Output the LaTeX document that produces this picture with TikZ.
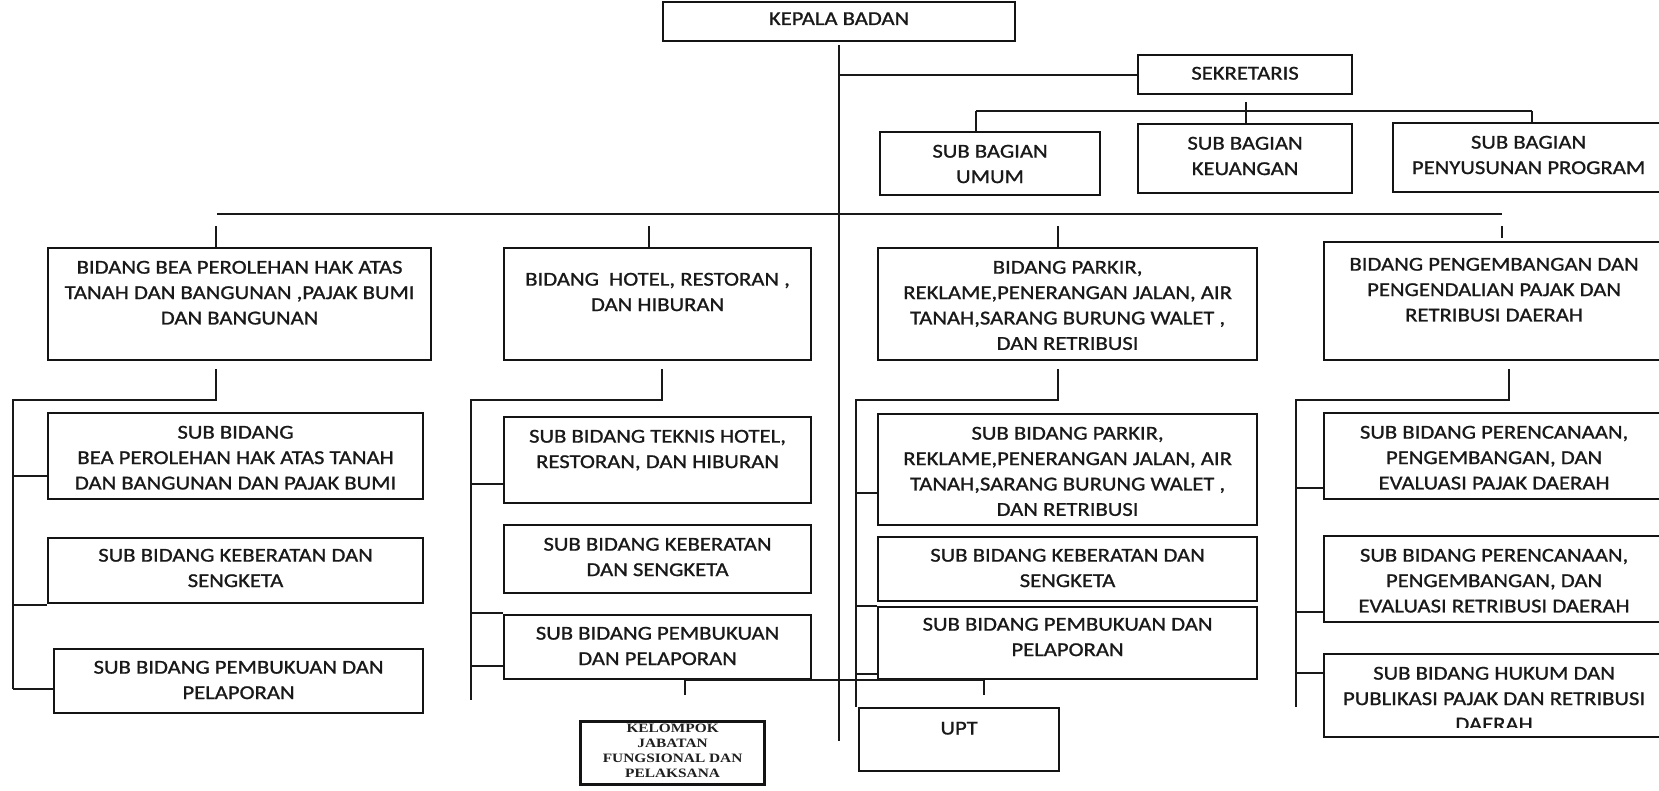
\documentclass[tikz,border=0pt]{standalone}
\usepackage{fontspec}
\setmainfont{Carlito}[FakeStretch=1.15,FakeBold=1.0]
\newfontfamily\kfont{Liberation Serif}[FakeStretch=1.2]
\begin{document}
\begin{tikzpicture}[x=1pt,y=-1pt,
  box/.style={draw=black!92, line width=2.1pt, inner sep=0pt, anchor=north west},
  thickbox/.style={box, line width=3.2pt},
  tx/.style={align=center, inner sep=0pt, anchor=north, text=black!90,
    font=\fontsize{19.7}{25.4}\selectfont},
  ktx/.style={align=center, inner sep=0pt, anchor=north, text=black!88,
    font=\kfont\bfseries\fontsize{12.8}{15}\selectfont},
  conn/.style={draw=black!90, line width=2.1pt}]
\useasboundingbox (0,0) rectangle (1659,790);
\clip (0,0) rectangle (1659,790);
\fill[white] (0,0) rectangle (1659,790);

% ---------- boxes ----------
\node[box, minimum width=352pt, minimum height=39pt] (kepala) at (662,1) {};
\node[box, minimum width=214pt, minimum height=39pt] (sekr) at (1137,54) {};
\node[box, minimum width=220pt, minimum height=63pt] (umum) at (879,131) {};
\node[box, minimum width=214pt, minimum height=69pt] (keu) at (1137,123) {};
\node[box, minimum width=271pt, minimum height=69pt] (peny) at (1392,122) {};

\node[box, minimum width=383pt, minimum height=112pt] (bid1) at (47,247) {};
\node[box, minimum width=307pt, minimum height=112pt] (bid2) at (503,247) {};
\node[box, minimum width=379pt, minimum height=112pt] (bid3) at (877,247) {};
\node[box, minimum width=340pt, minimum height=118pt] (bid4) at (1323,241) {};

\node[box, minimum width=375pt, minimum height=86pt] (s11) at (47,412) {};
\node[box, minimum width=375pt, minimum height=65pt] (s12) at (47,537) {};
\node[box, minimum width=369pt, minimum height=64pt] (s13) at (53,648) {};

\node[box, minimum width=307pt, minimum height=86pt] (s21) at (503,416) {};
\node[box, minimum width=307pt, minimum height=68pt] (s22) at (503,524) {};
\node[box, minimum width=307pt, minimum height=64pt] (s23) at (503,614) {};

\node[box, minimum width=379pt, minimum height=111pt] (s31) at (877,413) {};
\node[box, minimum width=379pt, minimum height=64pt] (s32) at (877,536) {};
\node[box, minimum width=379pt, minimum height=72pt] (s33) at (877,606) {};

\node[box, minimum width=340pt, minimum height=86pt] (s41) at (1323,412) {};
\node[box, minimum width=340pt, minimum height=86pt] (s42) at (1323,535) {};
\node[box, minimum width=340pt, minimum height=83pt] (s43) at (1323,653) {};

\node[box, minimum width=200pt, minimum height=63pt] (upt) at (858,707) {};
\node[thickbox, minimum width=184pt, minimum height=63pt] (kel) at (579,720) {};

% ---------- texts ----------
\node[tx] (kepalat) at ([yshift=-11.15pt]kepala.north) {KEPALA BADAN};
\node[tx] (sekrt) at ([yshift=-12.65pt]sekr.north) {SEKRETARIS};
\node[tx] (umumt) at ([yshift=-13.65pt]umum.north) {SUB BAGIAN\\UMUM};
\node[tx] (keut) at ([yshift=-13.65pt]keu.north) {SUB BAGIAN\\KEUANGAN};
\node[tx] (penyt) at ([yshift=-13.65pt]peny.north) {SUB BAGIAN\\PENYUSUNAN PROGRAM};

\node[tx] (bid1t) at ([yshift=-13.65pt]bid1.north) {BIDANG BEA PEROLEHAN HAK ATAS\\TANAH DAN BANGUNAN ,PAJAK BUMI\\DAN BANGUNAN};
\node[tx] (bid2t) at ([yshift=-25.65pt]bid2.north) {BIDANG\ \ HOTEL, RESTORAN ,\\DAN HIBURAN};
\node[tx] (bid3t) at ([yshift=-13.65pt]bid3.north) {BIDANG PARKIR,\\REKLAME,PENERANGAN JALAN, AIR\\TANAH,SARANG BURUNG WALET ,\\DAN RETRIBUSI};
\node[tx] (bid4t) at ([yshift=-16.65pt]bid4.north) {BIDANG PENGEMBANGAN DAN\\PENGENDALIAN PAJAK DAN\\RETRIBUSI DAERAH};

\node[tx] (s11t) at ([yshift=-13.65pt]s11.north) {SUB BIDANG\\BEA PEROLEHAN HAK ATAS TANAH\\DAN BANGUNAN DAN PAJAK BUMI};
\node[tx] (s12t) at ([yshift=-11.65pt]s12.north) {SUB BIDANG KEBERATAN DAN\\SENGKETA};
\node[tx] (s13t) at ([yshift=-12.65pt]s13.north) {SUB BIDANG PEMBUKUAN DAN\\PELAPORAN};

\node[tx] (s21t) at ([yshift=-13.65pt]s21.north) {SUB BIDANG TEKNIS HOTEL,\\RESTORAN, DAN HIBURAN};
\node[tx] (s22t) at ([yshift=-13.65pt]s22.north) {SUB BIDANG KEBERATAN\\DAN SENGKETA};
\node[tx] (s23t) at ([yshift=-12.65pt]s23.north) {SUB BIDANG PEMBUKUAN\\DAN PELAPORAN};

\node[tx] (s31t) at ([yshift=-13.65pt]s31.north) {SUB BIDANG PARKIR,\\REKLAME,PENERANGAN JALAN, AIR\\TANAH,SARANG BURUNG WALET ,\\DAN RETRIBUSI};
\node[tx] (s32t) at ([yshift=-12.65pt]s32.north) {SUB BIDANG KEBERATAN DAN\\SENGKETA};
\node[tx] (s33t) at ([yshift=-11.65pt]s33.north) {SUB BIDANG PEMBUKUAN DAN\\PELAPORAN};

\node[tx] (s41t) at ([yshift=-13.65pt]s41.north) {SUB BIDANG PERENCANAAN,\\PENGEMBANGAN, DAN\\EVALUASI PAJAK DAERAH};
\node[tx] (s42t) at ([yshift=-13.65pt]s42.north) {SUB BIDANG PERENCANAAN,\\PENGEMBANGAN, DAN\\EVALUASI RETRIBUSI DAERAH};
\begin{scope}
\clip (1323,653) rectangle (1663,727.5);
\node[tx] (s43t) at ([yshift=-13.65pt]s43.north) {SUB BIDANG HUKUM DAN\\PUBLIKASI PAJAK DAN RETRIBUSI\\DAERAH};
\end{scope}

\node[tx] (uptt) at ([yshift=-14.65pt]upt.north) {UPT};
\node[ktx] (kelt) at ([yshift=-3.5pt]kel.north) {KELOMPOK\\JABATAN\\FUNGSIONAL DAN\\PELAKSANA};

% ---------- connectors ----------
\coordinate (mtop) at (839,45);
\coordinate (mend) at (839,741);
\draw[conn] (mtop) -- (mend);
\draw[conn] (sekr.west -| mtop) -- (sekr.west);

% secretary branch
\coordinate (sk) at (1246,102);
\coordinate (h1) at (976,111);
\coordinate (h2) at (1532,111);
\draw[conn] (sk) -- (sk |- keu.north);
\draw[conn] (h1) -- (h2);
\draw[conn] (h1) -- (h1 |- umum.north);
\draw[conn] (h2) -- (h2 |- peny.north);

% main horizontal
\coordinate (hl) at (217,214);
\coordinate (hr) at (1502,214);
\draw[conn] (hl) -- (hr);
\coordinate (d1) at (216,226);
\coordinate (d2) at (649,226);
\coordinate (d3) at (1058,226);
\coordinate (d4) at (1502,226);
\draw[conn] (d1) -- (d1 |- bid1.north);
\draw[conn] (d2) -- (d2 |- bid2.north);
\draw[conn] (d3) -- (d3 |- bid3.north);
\draw[conn] (d4) -- (1502,238);

% column 1
\coordinate (u1) at (216,369);
\coordinate (c1) at (13,400);
\coordinate (c1e) at (13,689);
\draw[conn] (u1) -- (u1 |- c1) -- (c1) -- (c1e);
\draw[conn] (13,476) -- (13,476 -| s11.west);
\draw[conn] (13,605) -- (13,605 -| s12.west);
\draw[conn] (c1e) -- (c1e -| s13.west);

% column 2
\coordinate (u2) at (662,369);
\coordinate (c2) at (471,400);
\coordinate (c2e) at (471,700);
\draw[conn] (u2) -- (u2 |- c2) -- (c2) -- (c2e);
\draw[conn] (471,484) -- (471,484 -| s21.west);
\draw[conn] (471,613) -- (471,613 -| s23.west);
\draw[conn] (471,666) -- (471,666 -| s23.west);

% column 3
\coordinate (u3) at (1058,369);
\coordinate (c3) at (856,400);
\draw[conn] (u3) -- (u3 |- c3) -- (c3) -- (c3 |- upt.north);
\draw[conn] (856,493) -- (856,493 -| s31.west);
\draw[conn] (856,606) -- (856,606 -| s33.west);
\draw[conn] (856,674) -- (856,674 -| s33.west);

% column 4
\coordinate (u4) at (1509,369);
\coordinate (c4) at (1296,400);
\coordinate (c4e) at (1296,707);
\draw[conn] (u4) -- (u4 |- c4) -- (c4) -- (c4e);
\draw[conn] (1296,488) -- (1296,488 -| s41.west);
\draw[conn] (1296,612) -- (1296,612 -| s42.west);
\draw[conn] (1296,673) -- (1296,673 -| s43.west);

% bottom link under Pembukuan (col. 2)
\coordinate (b1) at (685,680);
\coordinate (b2) at (984,680);
\draw[conn] (b1) -- (b2);
\draw[conn] (b1) -- (685,695);
\draw[conn] (b2) -- (984,695);
\end{tikzpicture}
\end{document}
